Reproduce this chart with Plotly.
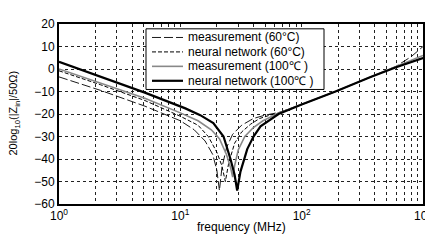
import plotly.graph_objects as go

# ---- data ----
f_meas60 = [1, 2.2, 5.1, 10, 13, 16, 18.5, 20, 21, 22, 24, 27, 32, 40, 50, 65, 100, 190, 370, 600, 800, 1000]
db_meas60 = [-3.5, -9.5, -16.5, -23, -27, -32, -38, -45, -54, -44, -35, -29, -25, -22, -20.5, -19.3, -15.8, -10, -3.6, 1.2, 5.5, 10]

f_nn60 = [1, 2.2, 5.1, 10, 14, 17, 20, 22, 23.5, 25, 28, 32, 38, 45, 55, 65, 100, 190, 370, 600, 1000]
db_nn60 = [-0.8, -7, -14, -21, -25, -30, -37, -43, -50, -42, -33, -28, -24.5, -22, -20.5, -19.5, -15.8, -10, -3.6, 0.8, 5]

f_meas100 = [1, 2.2, 5.1, 10, 14, 18, 21, 24, 26, 27, 28, 30, 34, 40, 48, 65, 100, 190, 370, 600, 1000]
db_meas100 = [0, -6.2, -13, -19.5, -23, -27, -31, -38, -44, -48, -43, -36, -30, -26, -23, -19.5, -15.8, -10, -3.5, 1, 6]

f_nn100 = [1, 2.2, 5.1, 11, 14.6, 18.7, 22.7, 25.9, 28, 29.4, 31.3, 35.6, 40.1, 45.8, 55, 64.5, 100, 190, 370, 600, 1000]
db_nn100 = [3.2, -3.4, -10.5, -17.5, -20.5, -24, -30, -40, -47, -54, -45.6, -35.6, -30, -25.5, -22.5, -20, -15.8, -10, -3.6, 0.8, 4.9]

series_names = ["measurement (60°C)", "neural network (60°C)",
                "measurement (100℃ )", "neural network (100℃ )"]

x_tickvals = [m * 10 ** k for k in range(3) for m in range(1, 10)] + [1000]
x_ticktext = [("10<sup>%d</sup>" % k if m == 1 else "") for k in range(3) for m in range(1, 10)] + ["10<sup>3</sup>"]
y_tickvals = [-60, -50, -40, -30, -20, -10, 0, 10, 20]

x_title = "frequency (MHz)"
y_title = "20log<sub>10</sub>(|Z<sub>in</sub>|/50Ω)"

FONT = "Liberation Sans, Arial, sans-serif"

styles = [dict(color="black", width=0.9, dash="9px,3px"),
          dict(color="black", width=1, dash="4px,2px"),
          dict(color="#888888", width=1.6, dash="solid"),
          dict(color="black", width=2.2, dash="solid")]

fig = go.Figure()
for fx, fy, nm, st in zip([f_meas60, f_nn60, f_meas100, f_nn100],
                          [db_meas60, db_nn60, db_meas100, db_nn100],
                          series_names, styles):
    fig.add_trace(go.Scatter(x=fx, y=fy, mode="lines", name=nm, line=st, showlegend=False))

# the page body has an 8px margin; plot area wanted at window x 59..423, y 17..204
PL, PW, PT, PH = 59, 364, 17, 187
def px(x):
    return (x - PL) / PW
def py(y):
    return (PT + PH - y) / PH

shapes = [dict(type="rect", xref="paper", yref="paper",
               x0=px(146), x1=px(324), y0=py(85), y1=py(22),
               line=dict(color="black", width=1), fillcolor="white", layer="above")]
annotations = []
rows = [31, 46, 61, 76]
for nm, st, ry in zip(series_names, styles, rows):
    shapes.append(dict(type="line", xref="paper", yref="paper",
                       x0=px(152), x1=px(183), y0=py(ry), y1=py(ry),
                       line=st, layer="above"))
    annotations.append(dict(xref="paper", yref="paper", x=px(186), y=py(ry),
                            xanchor="left", yanchor="middle", showarrow=False,
                            text=nm, font=dict(size=12, family=FONT, color="black")))

annotations.append(dict(xref="paper", yref="paper", x=px(241), y=py(228),
                        xanchor="center", yanchor="middle", showarrow=False,
                        text=x_title, font=dict(size=12, family=FONT, color="black")))
annotations.append(dict(xref="paper", yref="paper", x=px(14), y=py(110),
                        xanchor="center", yanchor="middle", showarrow=False, textangle=-90,
                        text=y_title, font=dict(size=11, family=FONT, color="black")))

fig.update_layout(
    width=433, height=241,
    margin=dict(l=51, r=18, t=9, b=45),
    paper_bgcolor="white", plot_bgcolor="white",
    font=dict(family=FONT, size=12, color="black"),
    showlegend=False,
    shapes=shapes, annotations=annotations,
    xaxis=dict(type="log", range=[0, 3], tickvals=x_tickvals, ticktext=x_ticktext,
               showgrid=True, gridcolor="#222", griddash="3px,3px", gridwidth=1,
               showline=True, linecolor="black", linewidth=2, mirror=True,
               ticks="", zeroline=False),
    yaxis=dict(range=[-60, 20], tickvals=y_tickvals,
               showgrid=True, gridcolor="#222", griddash="3px,3px", gridwidth=1,
               showline=True, linecolor="black", linewidth=2, mirror=True,
               ticks="", zeroline=False),
)

fig.write_html("out.html")
